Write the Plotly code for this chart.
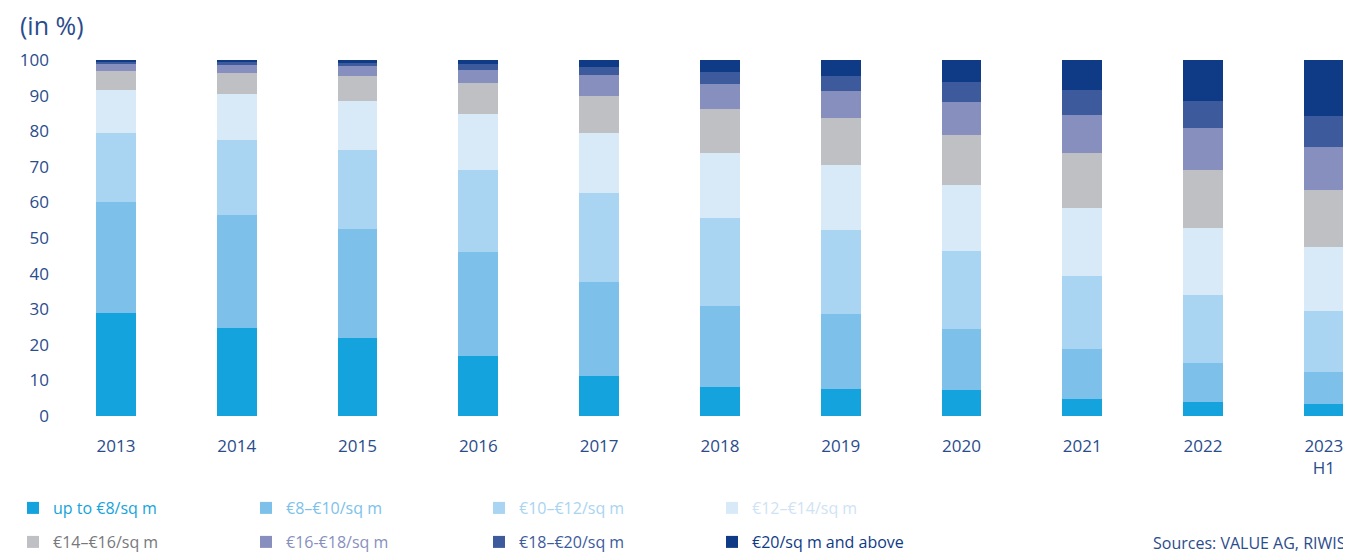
import plotly.graph_objects as go

years = ["2013", "2014", "2015", "2016", "2017", "2018", "2019", "2020", "2021", "2022", "2023<br>H1"]

# shares per rent band (in %)
up_to_8 = [28.9, 24.7, 21.8, 16.8, 11.2, 8.1, 7.5, 7.2, 4.8, 3.8, 3.3]
eur_8_10 = [31.2, 31.8, 30.7, 29.2, 26.4, 22.7, 21.1, 17.2, 13.9, 11.0, 9.0]
eur_10_12 = [19.4, 21.0, 22.2, 23.1, 25.0, 24.8, 23.6, 21.9, 20.6, 19.1, 17.1]
eur_12_14 = [12.1, 13.0, 13.8, 15.7, 16.9, 18.3, 18.3, 18.6, 19.1, 18.9, 18.0]
eur_14_16 = [5.3, 5.9, 7.0, 8.7, 10.4, 12.3, 13.2, 14.0, 15.5, 16.3, 16.0]
eur_16_18 = [2.0, 2.2, 2.8, 3.7, 5.9, 7.1, 7.6, 9.3, 10.6, 11.8, 12.1]
eur_18_20 = [0.5, 0.7, 0.8, 1.7, 2.2, 3.3, 4.2, 5.6, 7.1, 7.6, 8.8]
eur_20_plus = [0.6, 0.7, 0.9, 1.1, 2.0, 3.4, 4.5, 6.2, 8.4, 11.5, 15.7]

series = [
    ("up to €8/sq m", up_to_8, "#14a3dc", "legend"),
    ("€8–€10/sq m", eur_8_10, "#7dc1ea", "legend"),
    ("€10–€12/sq m", eur_10_12, "#a9d4f2", "legend"),
    ("€12–€14/sq m", eur_12_14, "#d8eaf8", "legend"),
    ("€14–€16/sq m", eur_14_16, "#bfc0c4", "legend2"),
    ("€16-€18/sq m", eur_16_18, "#878fbe", "legend2"),
    ("€18–€20/sq m", eur_18_20, "#3d5a9d", "legend2"),
    ("€20/sq m and above", eur_20_plus, "#0f3a85", "legend2"),
]
text_colors = ["#14a3dc", "#7dc1ea", "#a9d4f2", "#cfe3f5",
               "#77787c", "#878fbe", "#3d5a9d", "#0f3a85"]

fig = go.Figure()
for (name, vals, col, leg), tcol in zip(series, text_colors):
    fig.add_trace(go.Bar(
        x=years, y=vals,
        name=f'<span style="color:{tcol}">{name}</span>',
        marker=dict(color=col, line=dict(width=0)),
        legend=leg,
    ))

# page body has an 8px margin, so the figure is a bit smaller than the window
W, H = 1343, 546
L, R, T, B = 50, 3, 52, 138
plot_w = W - L - R
plot_h = H - T - B


def py(y_screen):
    return (H - B - (y_screen - 8)) / plot_h


def px(x_screen):
    return (x_screen - 8 - L) / plot_w


axis_blue = "#2b4c8c"
leg_common = dict(orientation="h", xanchor="left", yanchor="middle", yref="paper",
                  entrywidth=188, traceorder="normal", font=dict(size=16),
                  itemclick=False, bgcolor="rgba(0,0,0,0)")
fig.update_layout(
    barmode="stack",
    bargap=0.67,
    width=W, height=H,
    margin=dict(l=L, r=R, t=T, b=B, autoexpand=False),
    plot_bgcolor="white", paper_bgcolor="white",
    font=dict(family="Open Sans", size=16, color=axis_blue),
    xaxis=dict(range=[-0.48, 10.2], showgrid=False, zeroline=False, showline=False,
               ticks="", tickfont=dict(size=17, color=axis_blue), ticklabelstandoff=18),
    yaxis=dict(range=[0, 100], tickvals=list(range(0, 101, 10)), showgrid=False,
               zeroline=False, showline=False, ticks="",
               tickfont=dict(size=17, color=axis_blue), ticklabelstandoff=8),
    legend=dict(x=px(13), y=py(508), **leg_common),
    legend2=dict(x=px(13), y=py(542), **leg_common),
    showlegend=True,
)

fig.add_annotation(text="(in %)", xref="paper", yref="paper",
                   x=px(18), y=py(25),
                   xanchor="left", yanchor="middle", showarrow=False,
                   font=dict(size=25, color=axis_blue))
fig.add_annotation(text="Sources: VALUE AG, RIWIS", xref="paper", yref="paper",
                   x=px(1348), y=py(543),
                   xanchor="right", yanchor="middle", showarrow=False,
                   font=dict(size=16, color=axis_blue))

fig.write_html("out.html")
